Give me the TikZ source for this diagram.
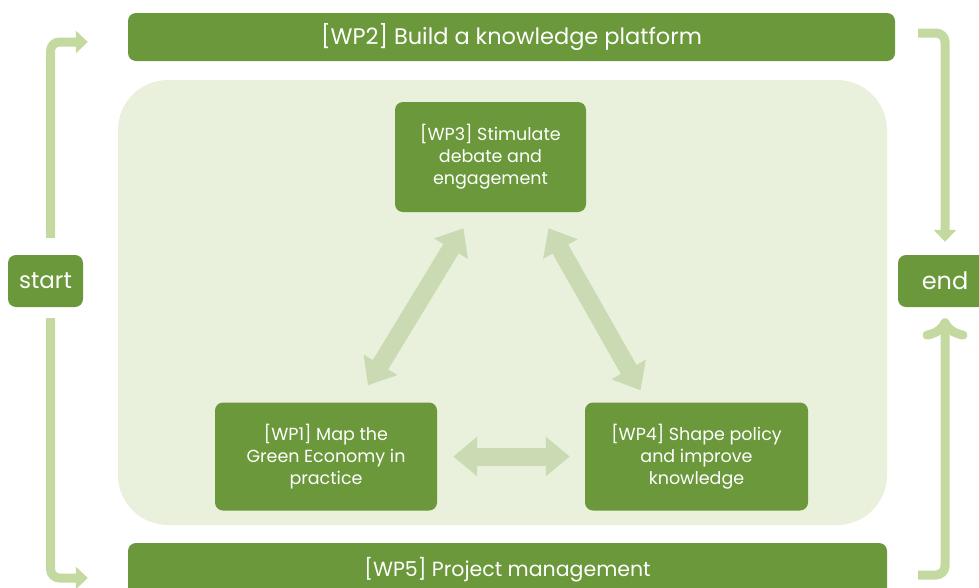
\documentclass[tikz,border=0pt]{standalone}
\usepackage{fontspec}
\setmainfont{Poppins}
\usetikzlibrary{arrows.meta}

\definecolor{wpgreen}{HTML}{6A983A}
\definecolor{panelgreen}{HTML}{E9F0DC}
\definecolor{linkgreen}{HTML}{CADBB3}
\definecolor{flowgreen}{HTML}{C4D99F}

\begin{document}
\begin{tikzpicture}[x=1pt,y=-1pt,
    flow/.style={line width=9pt,color=flowgreen,rounded corners=9pt,
      -{Triangle[length=12pt,width=22pt]}},
    link/.style={line width=18pt,color=linkgreen,
      {Triangle[length=24pt,width=38pt]}-{Triangle[length=24pt,width=38pt]}}]
      \useasboundingbox (0,0) rectangle (979,587);
      \clip (0,0) rectangle (979,587);

      \fill[panelgreen,rounded corners=50pt] (118,80) rectangle (887,525);

      \begin{scope}[every node/.style={fill=wpgreen,text=white,rounded corners=8pt,
          align=center,inner sep=0pt,font=\fontsize{17.5}{22}\selectfont}]
        \node[minimum width=767pt,minimum height=48pt,font=\fontsize{22.5}{26}\selectfont]
          (WP2) at (511.5,37) {[WP2] Build a knowledge platform};
        \node[minimum width=191pt,minimum height=110pt] (WP3) at (490.5,157)
          {[WP3] Stimulate\\debate and\\engagement};
        \node[minimum width=222pt,minimum height=108pt] (WP1) at (326,456.5)
          {[WP1] Map the\\Green Economy in\\practice};
        \node[minimum width=223pt,minimum height=108pt] (WP4) at (696.5,456.5)
          {[WP4] Shape policy\\and improve\\knowledge};
        \node[minimum width=759pt,minimum height=54pt,font=\fontsize{20.5}{24}\selectfont]
          (WP5) at (507.5,570) {[WP5] Project management};
        \node[minimum width=75pt,minimum height=52pt,font=\fontsize{23}{26}\selectfont]
          (start) at (45.5,281) {start};
        \node[minimum width=94pt,minimum height=52pt,font=\fontsize{24}{26}\selectfont]
          (end) at (945,281) {end};
      \end{scope}

      \path ([xshift=-27pt,yshift=-16pt]WP3.south) edge[link] ([xshift=42pt,yshift=17pt]WP1.north);
      \path ([xshift=58pt,yshift=-16pt]WP3.south) edge[link] ([xshift=-56pt,yshift=12pt]WP4.north);
      \path ([xshift=16pt]WP1.east) edge[link] ([xshift=-15pt]WP4.west);

      \draw[flow] ([xshift=5pt,yshift=17pt]start.north) |- ([xshift=-40pt,yshift=-5pt]WP2.west);
      \draw[flow] ([xshift=5pt,yshift=-11pt]start.south) |- ([xshift=-40pt,yshift=-8pt]WP5.west);
      \draw[flow] ([xshift=23pt,yshift=4pt]WP2.east) -| ([yshift=13pt]end.north);
      \draw[flow,<-] ([yshift=-11pt]end.south) |- ([xshift=31pt,yshift=-5pt]WP5.east);
    \end{tikzpicture}
\end{document}
